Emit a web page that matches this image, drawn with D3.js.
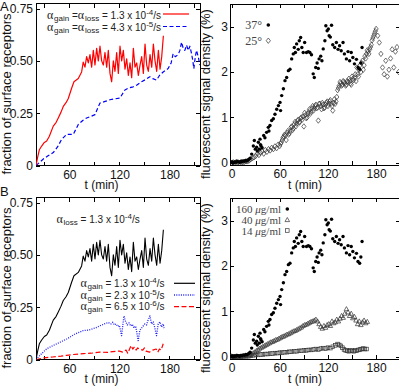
<!DOCTYPE html>
<html><head><meta charset="utf-8">
<script src="https://cdn.jsdelivr.net/npm/d3@7"></script>
<style>
html,body{margin:0;padding:0;background:#fff;}
svg{display:block;}
text{white-space:pre;}
</style></head><body>
<svg id="c" width="399" height="388"></svg>
<script>
// ---------- DATA ----------
// Panel A left / B left: fast gain-loss simulation (red in A, black in B)
const simFastT = [20,22,24,26.8,30,32.8,36,40.7,44,46.7,50,52.7,56,58.7,62.7,65.5,70.7,74.7,76.6,
  78.7,80.7,82.7,84.7,86.7,88.7,90.7,92.7,94.7,96.7,98.7,100.7,102.7,104.7,106.7,108.7,110.7,112.7,114.7,116.7,
  118.7,120.7,122.7,124.7,126.7,128.7,130.7,132.7,134.7,136.7,138.7,140.7,142.7,144.7,146.7,148.7,150.7,152.7,
  154.7,156.7,158.7,160.7,162.7,164.7,166.7,168.7,170.7,172.7];
const simFastV = [0,0.04,0.075,0.093,0.11,0.117,0.14,0.188,0.205,0.227,0.255,0.282,0.3,0.32,0.369,0.40,0.416,0.447,0.494,
  0.47,0.52,0.49,0.53,0.47,0.55,0.48,0.56,0.50,0.57,0.50,0.48,0.54,0.47,0.55,0.44,0.40,0.50,0.45,0.54,
  0.44,0.57,0.50,0.55,0.46,0.51,0.43,0.49,0.42,0.56,0.47,0.49,0.43,0.48,0.52,0.44,0.58,0.48,
  0.45,0.53,0.47,0.58,0.50,0.45,0.55,0.46,0.52,0.62];
// Panel A left: slow gain = loss (blue dashed)
const simSlowT = [20,28.8,34,40.7,46,50.8,56.8,64.7,70.7,76,80.7,86,90.7,96.6,102,108.6,114,120.6,126.6,131,136.5,141,
  146.6,151,156.5,160,164.5,168,172.5,178.4,182,184.4,187,190.4,192.5,194.5,196.5,198.4,200.5,202.5,204.5,206.5,208,209.2,211,212.4,214.5,216.4];
const simSlowV = [0,0.031,0.045,0.062,0.09,0.125,0.149,0.149,0.196,0.215,0.227,0.235,0.243,0.298,0.305,0.314,0.318,0.322,0.361,0.37,0.376,0.385,
  0.40,0.41,0.424,0.415,0.408,0.43,0.447,0.463,0.49,0.534,0.52,0.53,0.55,0.589,0.56,0.55,0.575,0.55,0.57,0.534,0.5,0.463,0.52,0.55,0.52,0.48];
// Panel B left: alpha_gain = 2.3e-5 (blue dotted)
const gainMidT = [20,26,32.8,38,44.8,50,56.8,62,66.7,72,76.6,82,86.7,92,96.6,102,106.6,110,112,114,116,118,120,122.6,125.4,127.5,129.5,
  131.5,133.5,135.5,137.5,139.5,142.5,144.5,146.5,148.5,150.5,152.5,154.5,156.5,158.5,160.5,162.5,164.5,166.5,168.5,170.5,172.5,173.5];
const gainMidV = [0,0.025,0.051,0.062,0.075,0.085,0.098,0.11,0.122,0.13,0.138,0.14,0.145,0.152,0.161,0.17,0.177,0.17,0.178,0.165,0.17,0.158,0.163,0.114,0.208,0.18,0.165,
  0.175,0.16,0.168,0.15,0.16,0.09,0.14,0.15,0.16,0.17,0.165,0.19,0.208,0.17,0.18,0.15,0.114,0.17,0.18,0.155,0.17,0.15];
// Panel B left: alpha_gain = 6.5e-6 (red dashed)
const gainLowT = [20,30,40,50,56.8,65,76.6,86,96.6,106,112,120,124,128,130,134,136,138,140,142,144,148,150,152,156,160,164,166,168,170,172.5];
const gainLowV = [0,0.008,0.012,0.016,0.02,0.024,0.028,0.03,0.035,0.034,0.038,0.04,0.035,0.045,0.03,0.067,0.05,0.06,0.045,0.055,0.05,0.045,0.055,0.04,0.035,0.045,0.05,0.035,0.05,0.045,0.075];

// Panel A right: 37 deg (filled circles) -- same set as 160 ug/ml in panel B right
const exp37T = [0,1,2.5,4,5.5,7,8.5,10,11.5,13,14.5,16,17.5,19,20.5,22,
  23,25,27.1,28.3,29.5,31.2,32,33.3,34.5,35.4,36,36.6,38,40,41.5,43.6,45.7,46.5,47.8,49.9,52,54,56.2,58.3,60.3,61,62.4,64.5,
  66.5,68.6,70.7,72.7,74.8,76.8,78.1,79.5,81,83,84.3,86,87.5,89.2,91,93.3,95.5,97.5,99.5,101.6,103,104.8,106.5,108,109,111,
  112.5,114.1,116.2,117.4,119,120.5,121.5,123,124.5,126,128.4,130.5,132.6,134.5,136.5,138.8,140.5,143,145,147,149,151,153,
  155.5,157.4,159.5,161,162.5];
const exp37V = [0.01,0.02,0,0.02,0.01,0.03,0.02,0.01,0.03,0.02,0.04,0.03,0.05,0.04,0.06,0.08,
  0.10,0.19,0.37,0.49,0.3,0.34,0.26,0.45,0.3,0.52,0.4,0.37,0.33,0.6,0.55,0.67,0.78,0.7,0.82,0.93,0.97,1.07,1.18,1.26,1.33,1.15,1.48,1.63,
  1.81,1.88,2.03,2.06,2.29,2.4,2.54,2.43,2.62,2.5,2.69,2.76,2.54,2.43,2.65,2.43,2.45,2.43,2.38,1.96,1.88,2.1,2.2,2.08,2.29,2.35,
  2.25,2.51,2.69,3.02,2.91,2.95,2.8,2.77,3.03,2.6,2.54,2.65,2.5,2.58,2.47,2.65,2.4,2.29,2.45,2.25,2.43,2.32,2.18,
  2.28,2.1,2.06,2.2,2.54];
// Panel A right: 25 deg (open diamonds)
const exp25T = [0,2,4,6,8,10,12,14,16,18,20,22,24,26,28,30,32,34,36,38,40,42,44,46,48,50,52,54,56,58,60,62,64,66,68,70,72,74,76,78,
  80,82,84,86,88,90,92,94,96,98,100,102,104,106,108,110,112,114,116,118,120,122,124,126,128,130,132,134,136,138,140,142,144,146,
  148,150,152,154,156,158,160,162,164,166,168,170,172,174,176,178,180,182,184,186,188,190,192,194,196,198,200,202,204,206,208,
  61,63,65,67,69,71,73,75,77,79,81,83,85,87,89,91,93,95,97,99,101,103,105,107,109,111,113,115,117,119,121,123,125,127,129,
  131,133,135,137,139,141,143,145,147,149,151,153,155,157,159,161,163,165,167,169,171,173,175,177,179];
const exp25V = [0,0.01,0,0.02,0.01,0,0.02,0.01,0.02,0.03,0.03,0.05,0.08,0.1,0.12,0.15,0.2,0.17,0.22,0.25,0.2,0.28,0.24,0.3,0.27,0.33,0.3,0.36,0.32,0.4,
  0.37,0.45,0.55,0.62,0.5,0.7,0.65,0.78,0.72,0.85,0.8,0.92,0.88,0.98,0.95,0.8,1.05,1.0,1.12,1.08,1.2,1.15,1.25,1.2,0.93,1.3,1.18,1.28,1.22,1.32,
  1.25,1.35,1.3,1.15,1.4,1.35,1.6,1.7,1.75,1.72,1.78,1.7,1.8,1.85,1.75,1.9,1.82,1.95,2.1,1.9,2.15,2.2,2.05,2.35,2.4,2.45,2.5,2.6,2.75,2.85,
  2.95,2.8,2.65,2.4,2.1,1.95,2.25,1.9,2.05,2.3,2.5,2.1,2.45,2.55,2.0,
  0.42,0.5,0.58,0.6,0.66,0.62,0.7,0.8,0.76,0.9,0.86,0.95,0.9,1.0,1.02,1.1,0.98,1.08,1.18,1.12,1.25,1.2,1.28,1.22,1.3,1.25,1.32,1.2,1.28,1.35,
  1.3,1.38,1.25,1.32,1.3,1.45,1.65,1.78,1.7,1.8,1.75,1.72,1.78,1.8,1.72,1.85,1.88,1.8,1.95,2.05,2.0,2.25,2.15,2.3,2.48,2.4,2.55,2.7,2.8,2.9];
// Panel B right: 40 ug/ml (open triangles)
const exp40T = [0,3,6,9,12,15,18,21,23,25,27,29,31,33,35,37,39,41,43,45,47,49,51,53,55,57,59,61,63,65,67,69,71,73,75,77,79,81,83,85,87,89,
  91,93,95,97,99,101,103,105,107,109,111,113,115,117,119,121,123,125,127,129,131,133,135,137,139,141,143,145,147,149,151,153,155,157,159,161,163,165,167,169];
const exp40V = [0.01,0,0.01,0,0.01,0.01,0.02,0.03,0.04,0.06,0.08,0.1,0.13,0.15,0.18,0.2,0.22,0.24,0.26,0.28,0.3,0.32,0.33,0.35,0.37,0.38,0.4,0.42,0.44,0.45,0.47,0.49,
  0.5,0.52,0.54,0.56,0.57,0.59,0.61,0.63,0.65,0.68,0.7,0.71,0.73,0.75,0.77,0.78,0.8,0.82,0.78,0.72,0.66,0.62,0.68,0.64,0.7,0.72,0.68,0.78,0.74,0.76,0.82,0.78,
  0.84,0.9,0.86,0.95,1.05,0.98,0.9,0.95,0.85,0.88,0.8,0.72,0.78,0.7,0.76,0.8,0.74,0.77];
// Panel B right: 14 ug/ml (open squares)
const exp14T = [0,3,6,9,12,15,18,21,24,27,30,33,36,39,42,45,48,51,54,57,60,63,66,69,72,75,78,81,84,87,90,93,96,99,102,105,108,111,114,117,
  120,123,126,129,132,134,136,138,140,142,144,146,148,150,152,154,156,158,160,162,164,166,168];
const exp14V = [0,0.01,0,0.01,0,0.01,0.01,0.01,0.02,0.03,0.04,0.04,0.05,0.05,0.06,0.06,0.07,0.07,0.08,0.08,0.09,0.09,0.1,0.1,0.11,0.11,0.12,0.12,0.13,0.13,
  0.14,0.14,0.15,0.15,0.16,0.17,0.16,0.18,0.19,0.18,0.2,0.19,0.22,0.25,0.28,0.26,0.24,0.2,0.16,0.14,0.13,0.12,0.14,0.13,0.12,0.14,0.13,0.15,0.16,0.17,0.18,0.17,0.17];

const simXTicks = [30,60,90,120,150,180,210];
const expXTicks = [0,30,60,90,120,150,180];
const simYTicks = [0,0.25,0.5,0.75];
const expYTicks = [0,1,2,3];

// ---------- DRAWING ----------
const SANS = "'Liberation Sans', Arial, Helvetica, sans-serif";
const SERIF = "'Liberation Serif', 'Times New Roman', serif";
const svg = d3.select("#c");
let clipId = 0;

function panel(o){
  const x = d3.scaleLinear().domain(o.xd).range([o.left, o.right]);
  const y = d3.scaleLinear().domain(o.yd).range([o.bottom, o.top]);
  const g = svg.append("g");
  const ax = g.append("g").attr("shape-rendering","crispEdges");
  ax.append("g").attr("transform",`translate(0,${o.bottom})`)
    .call(d3.axisBottom(x).tickValues(o.xt).tickSize(-4).tickPadding(o.xpad).tickFormat(d => d % 60 === 0 ? d : ""));
  ax.append("g").attr("transform",`translate(0,${o.top})`)
    .call(d3.axisTop(x).tickValues(o.xt).tickSize(-4).tickFormat(""));
  ax.append("g").attr("transform",`translate(${o.left},0)`)
    .call(d3.axisLeft(y).tickValues(o.yt).tickSize(-4).tickPadding(o.ypad).tickFormat(o.yf));
  ax.append("g").attr("transform",`translate(${o.right},0)`)
    .call(d3.axisRight(y).tickValues(o.yt).tickSize(-4).tickFormat(""));
  ax.selectAll(".domain").remove();
  ax.selectAll("text").attr("font-family",SANS).attr("font-size",12).attr("fill","#111");
  ax.append("rect").attr("x",o.left).attr("y",o.top).attr("width",o.right-o.left).attr("height",o.bottom-o.top)
    .attr("fill","none").attr("stroke","#000").attr("stroke-width",1);
  const id = "clip" + (clipId++);
  g.append("clipPath").attr("id",id).append("rect").attr("x",o.left).attr("y",o.top)
    .attr("width",o.right-o.left).attr("height",o.bottom-o.top);
  const data = g.append("g").attr("clip-path",`url(#${id})`);
  // axis titles
  g.append("text").attr("transform",`translate(${o.ylx},${o.yly}) rotate(-90)`).attr("text-anchor","middle")
    .attr("font-family",SANS).attr("font-size",13).attr("fill","#111").text(o.ylabel);
  g.append("text").attr("x",o.xlx).attr("y",o.xly).attr("text-anchor","middle")
    .attr("font-family",SANS).attr("font-size",12).attr("fill","#111").text("t (min)");
  return {x,y,g,data};
}

function drawLine(p, ts, vs, color, dash, w){
  const pts = ts.map((t,i)=>[t,vs[i]]);
  p.data.append("path").datum(pts).attr("fill","none").attr("stroke",color).attr("stroke-width",w||1.2)
    .attr("stroke-dasharray",dash||null).attr("stroke-linejoin","round")
    .attr("d", d3.line().x(d=>p.x(d[0])).y(d=>p.y(d[1])));
}
const diamond = "M0,-2.7L2.1,0L0,2.7L-2.1,0Z";
const triangle = "M0,-2.5L2.3,1.6L-2.3,1.6Z";
function drawMarks(p, ts, vs, kind){
  const pts = ts.map((t,i)=>[t,vs[i]]);
  const sel = p.data.append("g").selectAll("g").data(pts).enter();
  if(kind==="dot"){
    sel.append("circle").attr("cx",d=>p.x(d[0])).attr("cy",d=>p.y(d[1])).attr("r",1.7).attr("fill","#000");
  } else if(kind==="diamond"){
    sel.append("path").attr("d",diamond).attr("transform",d=>`translate(${p.x(d[0])},${p.y(d[1])})`)
      .attr("fill","none").attr("stroke","#333").attr("stroke-width",0.7);
  } else if(kind==="tri"){
    sel.append("path").attr("d",triangle).attr("transform",d=>`translate(${p.x(d[0])},${p.y(d[1])})`)
      .attr("fill","none").attr("stroke","#333").attr("stroke-width",0.7);
  } else {
    sel.append("rect").attr("x",d=>p.x(d[0])-1.8).attr("y",d=>p.y(d[1])-1.8).attr("width",3.6).attr("height",3.6)
      .attr("fill","none").attr("stroke","#333").attr("stroke-width",0.7);
  }
}
function rich(g, x, y, segs, size, anchor, family, color){
  const t = g.append("text").attr("x",x).attr("y",y).attr("font-family",family||SANS).attr("font-size",size)
    .attr("fill",color||"#222").attr("text-anchor",anchor||"start");
  let cur = 0;
  segs.forEach(s=>{
    const target = s.sub ? 2.2 : s.sup ? -4 : 0;
    const ts = t.append("tspan").text(s.t).attr("dy", target-cur);
    cur = target;
    if(s.f) ts.attr("font-family", s.f);
    if(s.s) ts.attr("font-size", s.s);
    if(s.st) ts.attr("font-style", s.st);
    if(s.dx) ts.attr("dx", s.dx);
  });
  return t;
}
const alpha = {t:"α", f:SERIF, s:12};
function sup(t){ return {t, s:8, sup:true}; }
function subS(t){ return {t, s:8, sub:true, dx:0.8}; }

const simYF = d => d === 0 ? "0" : d3.format(".2f")(d);
const expYF = d => d;

function simPanel(off){
  return panel({xd:[20,216.6], yd:[0,0.774], left:36, right:200, top:3.5+off, bottom:165.5+off,
    xt:simXTicks, yt:simYTicks, yf:simYF, xpad:5, ypad:3,
    ylabel:"fraction of surface receptors", ylx:11, yly:94+off, xlx:101.5, xly:189+off});
}
function expPanel(off){
  return panel({xd:[-2,210], yd:[-0.05,3.5], left:230, right:400.2, top:4+off, bottom:165+off,
    xt:expXTicks, yt:expYTicks, yf:expYF, xpad:4, ypad:2,
    ylabel:"fluorescent signal density (%)", ylx:210, yly:94+off, xlx:305, xly:189+off});
}

// ----- Panel A left
const pA1 = simPanel(0);
drawLine(pA1, simSlowT, simSlowV, "#0000ff", "4,2.5", 1.2);
drawLine(pA1, simFastT, simFastV, "#ff0000", null, 1.2);
rich(pA1.g, 47, 18.5, [alpha, subS("gain"), {t:" ="}, alpha, subS("loss"), {t:" = 1.3 x 10"}, sup("-4"), {t:"/s"}], 10);
rich(pA1.g, 47, 30.5, [alpha, subS("gain"), {t:" ="}, alpha, subS("loss"), {t:" = 4.3 x 10"}, sup("-5"), {t:"/s"}], 10);
pA1.g.append("line").attr("x1",163).attr("x2",189).attr("y1",14).attr("y2",14).attr("stroke","#ff0000").attr("stroke-width",1.2);
pA1.g.append("line").attr("x1",163).attr("x2",189).attr("y1",26.5).attr("y2",26.5).attr("stroke","#0000ff").attr("stroke-width",1.2).attr("stroke-dasharray","4,2.5");

// ----- Panel A right
const pA2 = expPanel(0);
drawMarks(pA2, exp25T, exp25V, "diamond");
drawMarks(pA2, exp37T, exp37V, "dot");
pA2.g.append("text").attr("x",262).attr("y",29).attr("text-anchor","end").attr("font-family",SERIF).attr("font-size",12).attr("fill","#444").text("37°");
pA2.g.append("text").attr("x",262).attr("y",45).attr("text-anchor","end").attr("font-family",SERIF).attr("font-size",12).attr("fill","#444").text("25°");
pA2.g.append("circle").attr("cx",268.3).attr("cy",25).attr("r",1.8).attr("fill","#000");
pA2.g.append("path").attr("d",diamond).attr("transform","translate(268.3,40.7)").attr("fill","none").attr("stroke","#333").attr("stroke-width",0.7);

// ----- Panel B left
const OFF = 194;
const pB1 = simPanel(OFF);
drawLine(pB1, gainLowT, gainLowV, "#ff0000", "5,2.5", 1.2);
drawLine(pB1, gainMidT, gainMidV, "#2222ff", "1,1.3", 1.3);
drawLine(pB1, simFastT, simFastV, "#000000", null, 1.1);
rich(pB1.g, 56.5, 222.5, [alpha, subS("loss"), {t:" = 1.3 x 10"}, sup("-4"), {t:"/s"}], 10);
rich(pB1.g, 80.5, 286.8, [alpha, subS("gain"), {t:" = 1.3 x 10"}, sup("-4"), {t:"/s"}], 10);
rich(pB1.g, 80.5, 298.5, [alpha, subS("gain"), {t:" = 2.3 x 10"}, sup("-5"), {t:"/s"}], 10);
rich(pB1.g, 80.5, 310.2, [alpha, subS("gain"), {t:" = 6.5 x 10"}, sup("-6"), {t:"/s"}], 10);
pB1.g.append("line").attr("x1",174).attr("x2",195).attr("y1",283.3).attr("y2",283.3).attr("stroke","#000").attr("stroke-width",1.2);
pB1.g.append("line").attr("x1",174).attr("x2",195).attr("y1",295).attr("y2",295).attr("stroke","#2222ff").attr("stroke-width",1.3).attr("stroke-dasharray","1,1.3");
pB1.g.append("line").attr("x1",174).attr("x2",195).attr("y1",306.7).attr("y2",306.7).attr("stroke","#ff0000").attr("stroke-width",1.2).attr("stroke-dasharray","5,2.5");

// ----- Panel B right
const pB2 = expPanel(OFF);
drawMarks(pB2, exp14T, exp14V, "square");
drawMarks(pB2, exp40T, exp40V, "tri");
drawMarks(pB2, exp37T, exp37V, "dot");
rich(pB2.g, 281, 212.5, [{t:"160 "}, {t:"μ", st:"italic"}, {t:"g/ml"}], 11, "end", SERIF, "#444");
rich(pB2.g, 281, 224, [{t:"40 "}, {t:"μ", st:"italic"}, {t:"g/ml"}], 11, "end", SERIF, "#444");
rich(pB2.g, 281, 234.5, [{t:"14 "}, {t:"μ", st:"italic"}, {t:"g/ml"}], 11, "end", SERIF, "#444");
pB2.g.append("circle").attr("cx",287.3).attr("cy",209).attr("r",1.8).attr("fill","#000");
pB2.g.append("path").attr("d",triangle).attr("transform","translate(287.3,220)").attr("fill","none").attr("stroke","#333").attr("stroke-width",0.7);
pB2.g.append("rect").attr("x",285.5).attr("y",228.7).attr("width",3.6).attr("height",3.6).attr("fill","none").attr("stroke","#333").attr("stroke-width",0.7);

// panel letters
svg.append("text").attr("x",0).attr("y",11).attr("font-family",SANS).attr("font-size",13).attr("fill","#111").text("A");
svg.append("text").attr("x",0).attr("y",196).attr("font-family",SANS).attr("font-size",13).attr("fill","#111").text("B");
</script>
</body></html>
